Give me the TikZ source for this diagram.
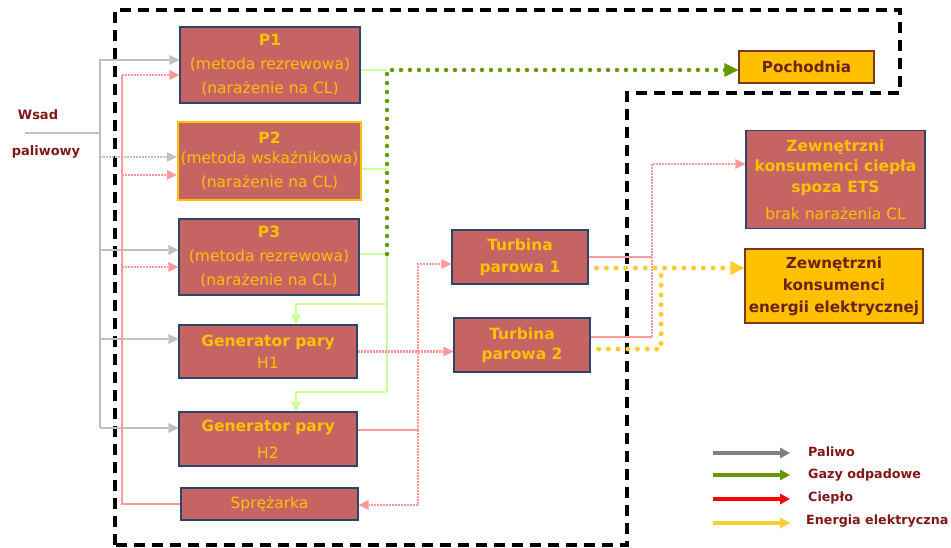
\documentclass[tikz,border=0pt]{standalone}
\usepackage{fontspec}
\setmainfont{DejaVu Sans}
\usetikzlibrary{arrows.meta}
\definecolor{boxfill}{HTML}{C66464}
\definecolor{boxdraw}{HTML}{2F4468}
\definecolor{gold}{HTML}{FFC000}
\definecolor{maroon}{HTML}{801818}
\definecolor{dbrown}{HTML}{6A2414}
\definecolor{pbord}{HTML}{7A3A1E}
\definecolor{fuelgray}{HTML}{C0C0C0}
\definecolor{lgreen}{HTML}{CCFF99}
\definecolor{dgreen}{HTML}{669900}
\definecolor{pinkh}{HTML}{FF9999}
\definecolor{elyellow}{HTML}{FFCC33}
\definecolor{leggray}{HTML}{808080}
\tikzset{
 box/.style={draw=boxdraw, line width=1.3pt, fill=boxfill, text=gold, inner sep=0pt, align=center, font=\fontsize{15.5}{22}\selectfont},
 ybox/.style={draw=pbord, line width=1.3pt, fill=gold, text=dbrown, inner sep=0pt, align=center, font=\bfseries\fontsize{15.2}{22}\selectfont},
 tip/.style={-{Triangle[length=10pt,width=10pt,line width=0pt]}},
 bigtip/.style={-{Triangle[length=14pt,width=14pt,line width=0pt]}},
 fuel/.style={draw=fuelgray, line width=2.6pt},
 fueldot/.style={draw=fuelgray, line width=2.6pt, dash pattern=on 2pt off 1pt},
 heat/.style={draw=pinkh, line width=1.7pt},
 heatdot/.style={draw=pinkh, line width=2.6pt, dash pattern=on 2pt off 1pt},
 gasl/.style={draw=lgreen, line width=1.8pt},
 gasdot/.style={draw=dgreen, line width=4.5pt, line cap=round, dash pattern=on 0pt off 9pt},
 eldot/.style={draw=elyellow, line width=5pt, line cap=round, dash pattern=on 0pt off 9.7pt},
 bound/.style={draw=black, line width=3.5pt, dash pattern=on 11pt off 7pt},
 lbl/.style={text=maroon, font=\bfseries\fontsize{13}{15}\selectfont, inner sep=0pt},
 leg/.style={line width=4pt, -{Triangle[length=10pt,width=11pt,line width=0pt]}},
 legtxt/.style={text=maroon, font=\bfseries\fontsize{12.7}{15}\selectfont, inner sep=0pt, anchor=west},
}
\begin{document}
\begin{tikzpicture}[x=1pt,y=-1pt]
\useasboundingbox (0,0) rectangle (951,548);
% boundary
\draw[bound] (115,545) -- (115,10) -- (900,10) -- (900,93) -- (627,93) -- (627,545) -- cycle;
% boxes
\node[box, minimum width=180pt, minimum height=76pt] (P1) at (270,65) {\textbf{P1}\\[2pt](metoda rezrewowa)\\[2pt](narażenie na CL)};
\node[box, draw=gold, line width=2.5pt, minimum width=183pt, minimum height=78pt] (P2) at (269.5,161) {\textbf{P2}\\[-2pt](metoda wskaźnikowa)\\[2pt](narażenie na CL)};
\node[box, minimum width=180pt, minimum height=76pt] (P3) at (269,257) {\textbf{P3}\\[2pt](metoda rezrewowa)\\[2pt](narażenie na CL)};
\node[box, minimum width=178pt, minimum height=53pt] (H1) at (268,351.5) {\textbf{Generator pary}\\H1};
\node[box, minimum width=178pt, minimum height=54pt] (H2) at (268,439) {\textbf{Generator pary}\\[5pt]H2};
\node[box, minimum width=177pt, minimum height=32pt] (S) at (269.5,504) {Sprężarka};
\node[box, minimum width=136pt, minimum height=54pt] (T1) at (520,257) {\textbf{Turbina}\\\textbf{parowa 1}};
\node[box, minimum width=136pt, minimum height=54pt] (T2) at (522,345) {\textbf{Turbina}\\[-2pt]\textbf{parowa 2}};
\node[ybox, minimum width=135pt, minimum height=32pt] (Poch) at (806.5,67) {Pochodnia};
\node[box, minimum width=179pt, minimum height=98pt] (ZC) at (835.5,179.5) {\textbf{Zewnętrzni}\\[-2pt]\textbf{konsumenci ciepła}\\[-1pt]\textbf{spoza ETS}\\[5pt]brak narażenia CL};
\node[ybox, minimum width=178pt, minimum height=74pt] (ZE) at (834,286) {Zewnętrzni\\konsumenci\\energii elektrycznej};
% input label
\node[lbl] (wsad) at (38,115) {Wsad};
\node[lbl] (paliw) at (46,152) {paliwowy};
% fuel
\coordinate (fin) at (25,133);
\coordinate (ftop) at (100,60);
\coordinate (fbot) at (100,428);
\coordinate (f2) at (100,157);
\coordinate (f3) at (100,250);
\coordinate (f4) at (100,339);
\draw[fuel,tip] (fin) -| (ftop) -- (ftop -| P1.west);
\draw[fuel] (ftop) -- (fbot);
\draw[fueldot,tip] (f2) -- (f2 -| P2.west);
\draw[fuel,tip] (f3) -- (f3 -| P3.west);
\draw[fuel,tip] (f4) -- (f4 -| H1.west);
\draw[fuel,tip] (fbot) -- (fbot -| H2.west);
% heat left
\coordinate (h1) at (122,75);
\coordinate (h2) at (122,175);
\coordinate (h3) at (122,267);
\draw[heat] (S.west) -| (h1);
\draw[heatdot,tip] (h1) -- (h1 -| P1.west);
\draw[heatdot,tip] (h2) -- (h2 -| P2.west);
\draw[heatdot,tip] (h3) -- (h3 -| P3.west);
% gases
\coordinate (g1) at (387,70);
\coordinate (g2) at (387,169);
\coordinate (g3) at (387,254);
\coordinate (g4) at (387,304);
\coordinate (g5) at (387,392);
\coordinate (gh1) at (296,304);
\coordinate (gh2) at (296,392);
\draw[gasl] (g1 -| P1.east) -- (g1);
\draw[gasl] (g2 -| P2.east) -- (g2);
\draw[gasl] (g3 -| P3.east) -- (g3);
\draw[gasl] (g3) -- (g5);
\draw[gasl,tip] (g4) -- (gh1) -- (gh1 |- H1.north);
\draw[gasl,tip] (g5) -- (gh2) -- (gh2 |- H2.north);
\draw[gasdot] (g3) -- (g1) -- ([xshift=-12pt]g1 -| Poch.west);
\draw[draw=dgreen, line width=0pt, bigtip] ([xshift=-14pt]g1 -| Poch.west) -- (g1 -| Poch.west);
% heat to turbines
\coordinate (k1) at (418,430);
\coordinate (k2) at (418,264);
\coordinate (k3) at (418,505);
\draw[heatdot,tip] (H1.east) -- (H1.east -| T2.west);
\draw[heat] (k1 -| H2.east) -- (k1);
\draw[heatdot,tip] (k1) -- (k2) -- (k2 -| T1.west);
\draw[heatdot,tip] (k1) -- (k3) -- (k3 -| S.east);
% heat to consumers
\coordinate (m1) at (652,257);
\coordinate (m2) at (652,337);
\coordinate (m3) at (652,164);
\draw[heat] (m1 -| T1.east) -- (m1);
\draw[heat] (m2 -| T2.east) -- (m2);
\draw[heatdot,tip] (m2) -- (m3) -- (m3 -| ZC.west);
% electricity
\coordinate (e1) at (661,268);
\coordinate (e2) at (661,349);
\draw[eldot] ([xshift=8pt]e1 -| T1.east) -- ([xshift=-12pt]e1 -| ZE.west);
\draw[draw=elyellow, line width=0pt, bigtip] ([xshift=-15pt]e1 -| ZE.west) -- (e1 -| ZE.west);
\draw[eldot] ([xshift=8pt]e2 -| T2.east) -- (e2) -- ([yshift=-7pt]e1);
% legend
\coordinate (la1) at (713,453); \coordinate (lb1) at (790,453);
\coordinate (la2) at (713,475); \coordinate (lb2) at (790,475);
\coordinate (la3) at (713,499); \coordinate (lb3) at (790,499);
\coordinate (la4) at (713,523); \coordinate (lb4) at (790,523);
\draw[leg, draw=leggray, fill=leggray] (la1) -- (lb1);
\draw[leg, draw=dgreen, fill=dgreen] (la2) -- (lb2);
\draw[leg, draw=red, fill=red] (la3) -- (lb3);
\draw[leg, draw=elyellow, fill=elyellow] (la4) -- (lb4);
\node[legtxt] (t1) at (808,452) {Paliwo};
\node[legtxt] (t2) at (808,475) {Gazy odpadowe};
\node[legtxt] (t3) at (808,498) {Ciepło};
\node[legtxt] (t4) at (806,521) {Energia elektryczna};
\end{tikzpicture}
\end{document}
